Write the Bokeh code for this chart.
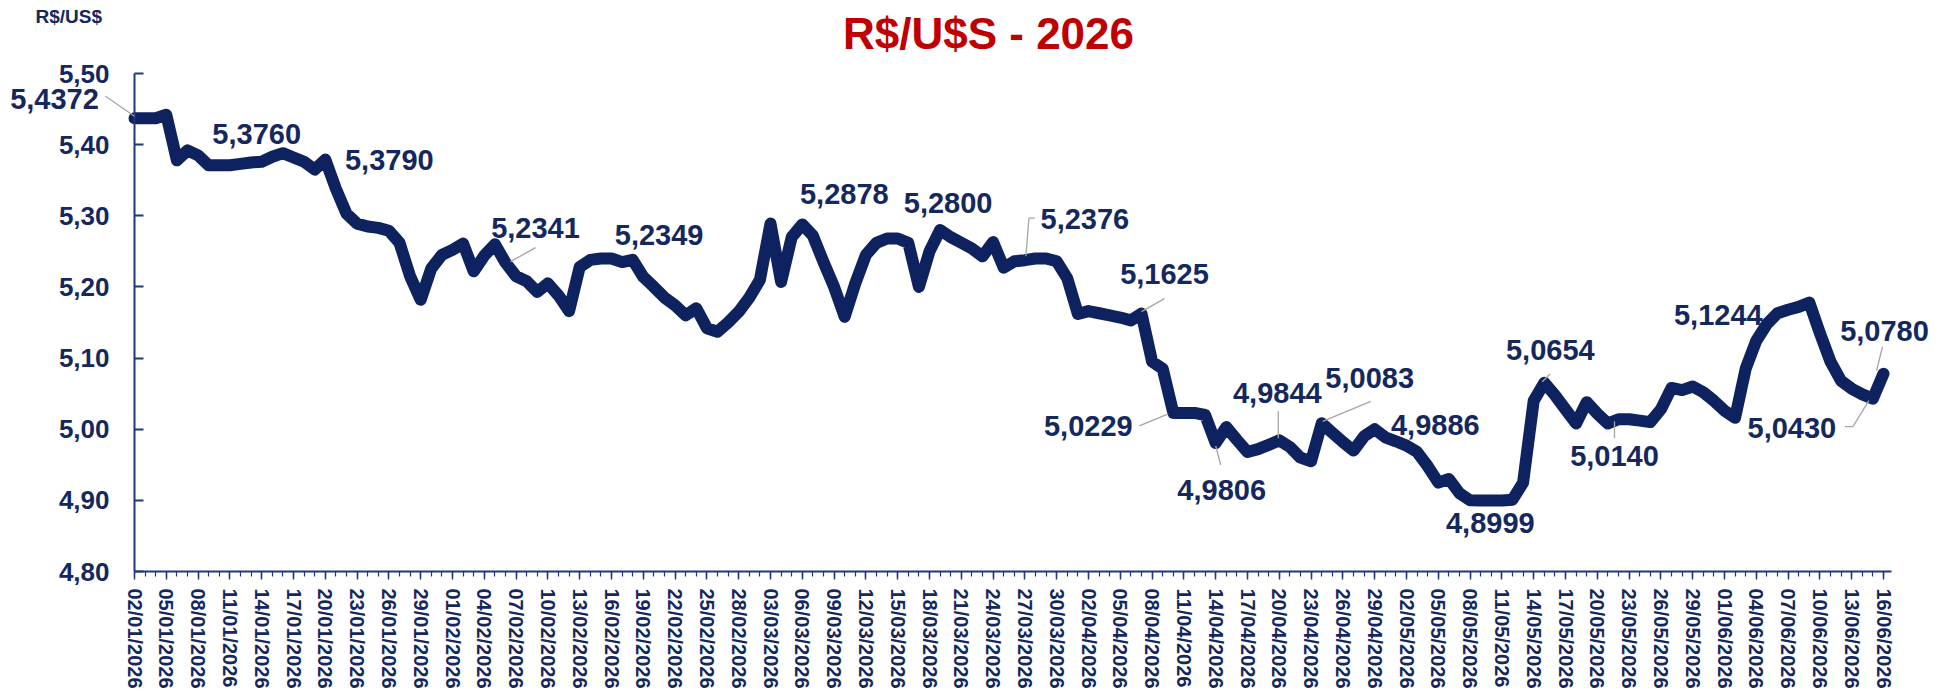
import datetime as dt
from bokeh.plotting import figure
from bokeh.models import Range1d, FixedTicker, CustomJSTickFormatter, Label, Arrow, LinearAxis
from bokeh.embed import file_html
from bokeh.resources import INLINE

# ---------------- data ----------------
start_date = dt.date(2026, 1, 2)
rate = [
    5.4372, 5.4372, 5.4372, 5.442, 5.378, 5.392, 5.385, 5.371, 5.371, 5.371,
    5.373, 5.375, 5.376, 5.383, 5.388, 5.382, 5.376, 5.365, 5.379, 5.338,
    5.303, 5.289, 5.285, 5.283, 5.279, 5.262, 5.215, 5.182, 5.226, 5.245,
    5.252, 5.261, 5.222, 5.244, 5.260, 5.2341, 5.215, 5.208, 5.193, 5.205,
    5.188, 5.166, 5.228, 5.238, 5.240, 5.240, 5.2349, 5.238, 5.214, 5.200,
    5.185, 5.174, 5.160, 5.170, 5.142, 5.137, 5.150, 5.165, 5.185, 5.210,
    5.289, 5.207, 5.270, 5.2878, 5.272, 5.235, 5.200, 5.158, 5.205, 5.245,
    5.262, 5.268, 5.268, 5.262, 5.200, 5.250, 5.2800, 5.270, 5.262, 5.254,
    5.243, 5.263, 5.227, 5.236, 5.2376, 5.240, 5.240, 5.236, 5.212, 5.162,
    5.166, 5.163, 5.160, 5.157, 5.153, 5.1625, 5.095, 5.085, 5.0229, 5.0229,
    5.0229, 5.020, 4.9806, 5.003, 4.985, 4.968, 4.972, 4.978, 4.9844, 4.975,
    4.960, 4.955, 5.0083, 4.995, 4.982, 4.970, 4.990, 5.000, 4.9886, 4.983,
    4.977, 4.968, 4.948, 4.925, 4.930, 4.910, 4.900, 4.8999, 4.8999, 4.8999,
    4.901, 4.925, 5.040, 5.0654, 5.048, 5.028, 5.008, 5.038, 5.022, 5.008,
    5.0140, 5.014, 5.012, 5.010, 5.028, 5.058, 5.055, 5.060, 5.052, 5.040,
    5.026, 5.016, 5.085, 5.1244, 5.148, 5.163, 5.168, 5.172, 5.178, 5.135,
    5.095, 5.068, 5.057, 5.049, 5.0430, 5.0780,
]
annotated_days = [0, 12, 18, 35, 46, 63, 76, 84, 95, 98, 102, 108, 112, 118,
                  128, 133, 140, 153, 164, 165]
y_ticks = [4.80, 4.90, 5.00, 5.10, 5.20, 5.30, 5.40, 5.50]
title_text = "R$/U$S - 2026"
unit_text = "R$/US$"

dates = [start_date + dt.timedelta(days=i) for i in range(len(rate))]
date_labels = [d.strftime("%d/%m/%Y") for d in dates]
days = list(range(len(rate)))

# ---------------- layout / style ----------------
NAVY = "#0E2260"
TEXT = "#14285E"
AXIS = "#1F3A78"
RED = "#C00000"
GREY = "#A6A6A6"

ORIGIN = 2            # where the canvas lands in the captured picture
W, H = 1937, 688
AX_L, AX_R, AX_T, AX_B = 136, 1891, 75, 573   # axis box in picture px
Y_MIN, Y_MAX = y_ticks[0], y_ticks[-1]
PX_PER_DAY = 10.6
PX_PER_VAL = (AX_B - AX_T) / (Y_MAX - Y_MIN)

def xd(px):   # picture px -> day
    return (px - AX_L) / PX_PER_DAY

def yv(py):   # picture px -> value
    return Y_MAX - (py - AX_T) / PX_PER_VAL

def ddx(px):
    return px / PX_PER_DAY

def ddy(py):  # screen-down px -> value delta
    return -py / PX_PER_VAL

# label offsets (screen px, y down) and leader polylines relative to point
label_offsets = {
    0: (-80, -19), 12: (-5, -28), 18: (64, 0), 35: (30, -35), 46: (37, -27),
    63: (42, -30), 76: (8, -27), 84: (60, -41), 95: (23, -40), 98: (-85, 13),
    102: (6, 47), 108: (-2, -47), 112: (48, -45), 118: (50, -12), 128: (-1, 23),
    133: (6, -33), 140: (-4, 37), 153: (-38, -26), 164: (-81, 29), 165: (1, -43),
}
leaders = {
    0: [(-29, -22), (0, -2)],
    35: [(30, -15), (5, -1)],
    84: [(10, -42), (4, -42), (1, -4)],
    95: [(23, -15), (0, -2)],
    98: [(-34, 13), (-5, 1)],
    102: [(5, 22), (0, 3)],
    108: [(-1, -29), (-1, -2)],
    112: [(49, -22), (1, -2)],
    133: [(6, -9), (-2, -1)],
    140: [(-4, 19), (-4, 2)],
    164: [(-28, 28), (-20, 28), (-4, 2)],
    165: [(-1, -27), (-7, -3)],
}

p = figure(
    width=W, height=H,
    x_range=Range1d(xd(ORIGIN), xd(ORIGIN + W)),
    y_range=Range1d(yv(ORIGIN + H), yv(ORIGIN)),
    x_axis_type=None, y_axis_type=None,
    output_backend="svg", toolbar_location=None,
    min_border=0, min_border_left=0, min_border_right=0,
    min_border_top=0, min_border_bottom=0,
    background_fill_color="white", border_fill_color="white",
)
p.outline_line_color = None
p.grid.visible = False

p.line(days, rate, line_color=NAVY, line_width=12, line_join="round", line_cap="round")

# y axis
yax = LinearAxis(fixed_location=0, bounds=(Y_MIN, Y_MAX))
yax.ticker = FixedTicker(ticks=y_ticks)
yax.formatter = CustomJSTickFormatter(code="return tick.toFixed(2).replace('.', ',');")
yax.major_tick_in = 9
yax.major_tick_out = 0
yax.minor_tick_line_color = None
yax.axis_line_color = AXIS
yax.axis_line_width = 2
yax.major_tick_line_color = AXIS
yax.major_tick_line_width = 2
yax.major_label_text_font = "Liberation Sans"
yax.major_label_text_font_style = "bold"
yax.major_label_text_font_size = "26px"
yax.major_label_text_color = TEXT
yax.major_label_standoff = 25
p.add_layout(yax, "left")

# x axis
xax = LinearAxis(fixed_location=Y_MIN, bounds=(0, xd(AX_R + 2)))
xax.ticker = FixedTicker(ticks=days[::3], minor_ticks=days)
xax.formatter = CustomJSTickFormatter(args=dict(labels=date_labels),
                                      code="return labels[Math.round(tick)] || '';")
xax.major_label_orientation = "vertical"
xax.major_tick_in = 0
xax.major_tick_out = 8
xax.minor_tick_in = 0
xax.minor_tick_out = 5
xax.axis_line_color = AXIS
xax.axis_line_width = 2
xax.major_tick_line_color = AXIS
xax.minor_tick_line_color = AXIS
xax.major_tick_line_width = 1.5
xax.minor_tick_line_width = 1.2
xax.major_label_text_font = "Liberation Sans"
xax.major_label_text_font_style = "bold"
xax.major_label_text_font_size = "20px"
xax.major_label_text_color = TEXT
xax.major_label_standoff = 9
p.add_layout(xax, "below")

# title and unit label
p.add_layout(Label(x=xd(990), y=yv(35), text=title_text,
                   text_align="center", text_baseline="middle", text_color=RED,
                   text_font="Liberation Sans", text_font_style="bold",
                   text_font_size="44px"))
p.add_layout(Label(x=xd(37), y=yv(18), text=unit_text,
                   text_align="left", text_baseline="middle", text_color=TEXT,
                   text_font="Liberation Sans", text_font_style="bold",
                   text_font_size="19px"))

# data labels and leader lines
for d in annotated_days:
    v = rate[d]
    ox, oy = label_offsets[d]
    txt = f"{v:.4f}".replace(".", ",")
    p.add_layout(Label(x=d, y=v, x_offset=ox, y_offset=-oy, text=txt,
                       text_align="center", text_baseline="middle", text_color=TEXT,
                       text_font="Liberation Sans", text_font_style="bold",
                       text_font_size="29px"))
    if d in leaders:
        pts = leaders[d]
        for (ax_, ay_), (bx_, by_) in zip(pts[:-1], pts[1:]):
            p.add_layout(Arrow(end=None,
                               x_start=d + ddx(ax_), y_start=v + ddy(ay_),
                               x_end=d + ddx(bx_), y_end=v + ddy(by_),
                               line_color=GREY, line_width=1.3))

open("out.html", "w").write(file_html(p, INLINE))
